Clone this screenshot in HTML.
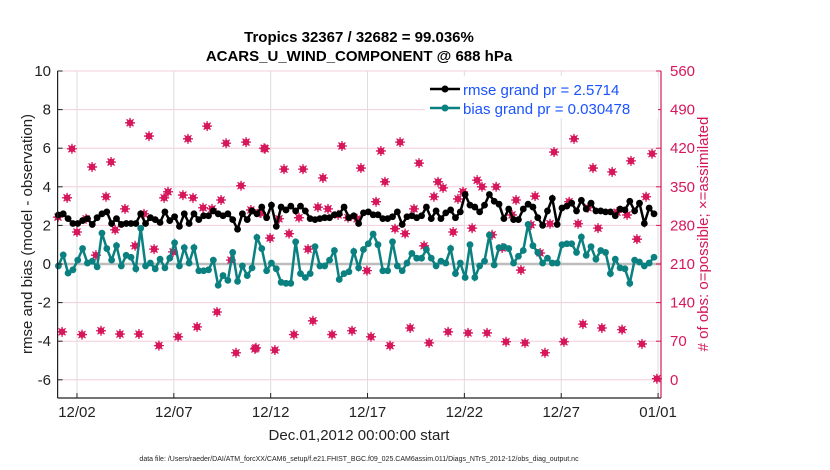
<!DOCTYPE html>
<html><head><meta charset="utf-8"><style>
body{margin:0;background:#fff;}
svg{display:block;font-family:"Liberation Sans",sans-serif;}
</style></head><body>
<svg id="chart" width="830" height="470"></svg>
<script>
const biasValues=[-0.1,0.47,-0.47,-0.3,0.2,0.8,0.05,0.15,-0.15,1.6,0.8,0.2,0.95,-0.1,0.45,0.35,-0.25,1.85,-0.1,0.05,-0.25,0.25,-0.2,0.3,1.1,-0.1,0.85,0.05,0.85,-0.35,-0.35,-0.3,0.2,-1.1,-0.6,-0.85,0.6,-0.9,-0.1,-0.6,-0.2,
1.38,0.8,-0.35,0.05,-0.25,-0.95,-1.0,-1.0,1.15,-0.5,-0.7,-0.5,0.9,-0.1,-0.1,0.2,0.7,-0.8,-0.5,-0.4,0.65,-0.2,0.75,1.05,1.55,1.0,-0.35,-0.35,1.15,-0.1,-0.35,0.05,0.55,0.3,0.3,0.75,0.3,-0.1,0.15,0.05,0.8,-0.5,0.05,
-0.7,1.0,-0.7,-0.1,0.15,1.5,-0.05,0.85,0.9,0.8,0.05,0.4,0.7,2.05,0.95,0.6,0.05,0.3,0.05,0.05,1.0,1.05,1.05,0.6,1.4,0.45,0.9,0.25,0.7,0.6,-0.5,0.25,-0.2,-0.25,-1.0,0.2,0.1,-0.1,0.05,0.35];
const rmseValues=[2.54,2.6,2.35,2.1,2.1,2.25,2.35,2.05,2.4,2.6,2.7,2.1,2.35,2.05,2.1,2.1,2.1,2.6,2.1,2.4,2.3,2.15,2.7,2.25,2.45,1.95,2.6,2.1,2.6,2.3,2.5,2.5,2.75,2.6,2.5,2.6,2.3,1.8,2.6,2.3,2.75,
2.6,2.95,2.4,3.05,1.95,2.95,2.8,3.0,2.75,3.0,2.75,2.35,2.3,2.35,2.4,2.4,2.55,2.6,2.95,2.4,2.5,2.1,2.65,2.7,2.55,2.55,2.35,2.35,2.45,2.7,2.05,2.45,2.5,2.4,2.5,2.95,2.35,2.75,2.35,2.65,2.8,2.4,2.7,
3.6,3.05,2.95,2.7,3.05,3.6,3.25,3.1,2.35,2.85,2.3,2.3,2.85,3.1,2.95,2.4,2.0,2.75,3.4,2.05,2.9,3.0,3.15,2.75,3.3,2.85,3.15,2.75,2.75,2.7,2.7,2.5,2.85,2.8,3.25,2.75,3.15,2.1,2.9,2.6];
const obsDays=[0.02,0.49,0.74,1.0,1.47,1.78,1.98,2.5,2.76,2.97,3.48,3.74,4.0,4.46,4.72,4.98,5.5,5.7,5.96,6.47,6.73,6.99,7.51,7.72,7.97,8.44,8.7,8.95,9.47,9.73,9.98,10.45,10.66,
0.23,1.26,2.24,3.22,4.2,5.23,6.22,7.2,8.23,9.21,10.19,
10.71,11.69,12.67,13.7,14.68,15.66,16.69,17.68,18.66,19.64,19.9,16.9,10.5,11.43,12.46,13.44,13.96,14.48,14.99,15.46,16.44,18.4,19.43,20.67,20.93,10.97,11.95,12.93,15.97,17.42,17.94,18.92,20.42,
10.24,11.22,12.2,13.18,14.17,15.2,16.18,17.16,18.2,19.18,20.16,
21.66,21.91,22.64,25.63,26.66,27.64,28.63,29.6,30.69,23.67,24.65,26.41,27.38,28.88,30.38,21.4,22.43,23.46,24.44,25.42,26.87,27.9,29.4,29.91,22.95,23.92,24.91,
21.19,22.17,23.15,24.13,25.16,26.14,27.12,28.1,29.14,30.17,30.94];
const obsCounts=[295,330,419,268,292,386,226,332,395,272,310,466,243,301,442,237,330,341,232,335,437,330,312,460,310,326,429,217,352,431,308,303,420,
87,82,89,83,83,62,78,96,123,49,56,
419,382,382,366,424,384,415,431,393,359,348,359,303,292,294,313,310,299,294,292,323,310,332,328,341,257,265,237,198,274,265,243,268,
58,54,82,107,82,89,78,62,94,67,87,
362,350,350,413,437,384,377,397,410,326,333,323,312,304,332,275,263,299,281,283,283,275,299,255,239,199,230,
85,85,69,67,49,69,101,94,91,65,2];
const leftTicks=[-6,-4,-2,0,2,4,6,8,10];
const rightTicks=[0,70,140,210,280,350,420,490,560];
const xTickLabels=["12/02","12/07","12/12","12/17","12/22","12/27","01/01"];
const xTickDays=[1,6,11,16,21,26,31];

const svg=document.getElementById('chart');
const NS='http://www.w3.org/2000/svg';
const X0=57.6,PXD=19.37,XR=661,YT=71,YB=398;
const xs=d=>X0+d*PXD;
const yl=v=>264-v*19.3;
const yr=n=>yl(n/35-6);
function mk(tag,attrs,parent){const e=document.createElementNS(NS,tag);for(const k in attrs)e.setAttribute(k,attrs[k]);(parent||svg).appendChild(e);return e;}
function txt(s,attrs){const t=mk('text',attrs);t.textContent=s;return t;}

rightTicks.forEach(n=>{const g=mk('line',{x1:X0,x2:XR,y1:yr(n),y2:yr(n),stroke:'#f3cddc','stroke-width':1});

});
xTickDays.forEach(d=>{const g=mk('line',{x1:xs(d),x2:xs(d),y1:YT,y2:YB,stroke:'#dddddd','stroke-width':1});

});
const zl=mk('line',{x1:X0,x2:XR,y1:yl(0),y2:yl(0),stroke:'#bdbdbd','stroke-width':2.5});



obsDays.forEach((d,i)=>{const g=mk('g',{});


const cx=xs(d),cy=yr(obsCounts[i]);
mk('circle',{cx:cx,cy:cy,r:3.3,fill:'#d6175c'},g);
mk('path',{d:`M${cx-5} ${cy}H${cx+5}M${cx} ${cy-5}V${cy+5}M${cx-3.5} ${cy-3.5}L${cx+3.5} ${cy+3.5}M${cx-3.5} ${cy+3.5}L${cx+3.5} ${cy-3.5}`,stroke:'#d6175c','stroke-width':1.3},g);});

function series(vals,color,name){
 const pts=vals.map((v,i)=>[xs(0.04+i*0.25),yl(v)]);
 const p=mk('polyline',{points:pts.map(p=>p.join(',')).join(' '),fill:'none',stroke:color,'stroke-width':2.5});
 
 
 pts.forEach(q=>{const c=mk('circle',{cx:q[0],cy:q[1],r:3.4,fill:color});
 
 });
}
series(rmseValues,'#000000','rmse');
series(biasValues,'#0a8080','bias');

mk('line',{x1:X0,x2:X0,y1:YT,y2:YB,stroke:'#222','stroke-width':1.2});
mk('line',{x1:X0,x2:XR,y1:YB,y2:YB,stroke:'#222','stroke-width':1.2});
mk('line',{x1:XR,x2:XR,y1:YT,y2:YB,stroke:'#d6175c','stroke-width':1.2});
leftTicks.forEach(v=>{mk('line',{x1:X0,x2:X0+5,y1:yl(v),y2:yl(v),stroke:'#222'});
const t=txt(String(v),{x:51,y:yl(v)+5,'text-anchor':'end','font-size':15,fill:'#222'});

});
rightTicks.forEach(n=>{mk('line',{x1:XR-5,x2:XR,y1:yr(n),y2:yr(n),stroke:'#d6175c'});
const t=txt(String(n),{x:670,y:yr(n)+5,'font-size':15,fill:'#d6175c'});

});
xTickDays.forEach((d,i)=>{mk('line',{x1:xs(d),x2:xs(d),y1:YB,y2:YB-5,stroke:'#222'});
const t=txt(xTickLabels[i],{x:xs(d),y:417,'text-anchor':'middle','font-size':15,fill:'#222'});

});
</script>
<svg width="830" height="470" style="position:absolute;left:0;top:0">
<text x="359" y="42" text-anchor="middle" font-size="15" font-weight="bold" fill="#000">Tropics 32367 / 32682 = 99.036%</text>
<text x="359" y="61" text-anchor="middle" font-size="15" font-weight="bold" fill="#000">ACARS_U_WIND_COMPONENT @ 688 hPa</text>
<text transform="translate(32,234) rotate(-90)" text-anchor="middle" font-size="15" fill="#222">rmse and bias (model - observation)</text>
<text transform="translate(708,234) rotate(-90)" text-anchor="middle" font-size="15" fill="#d6175c"># of obs: o=possible; ×=assimilated</text>
<text x="359" y="440" text-anchor="middle" font-size="15" fill="#222">Dec.01,2012 00:00:00 start</text>
<text x="359" y="461" text-anchor="middle" font-size="7" fill="#222">data file: /Users/raeder/DAI/ATM_forcXX/CAM6_setup/f.e21.FHIST_BGC.f09_025.CAM6assim.011/Diags_NTrS_2012-12/obs_diag_output.nc</text>
<g>
<rect x="425" y="76" width="233" height="42" fill="#fff" stroke="none"/>
<g>
<line x1="430" y1="89" x2="460" y2="89" stroke="#000" stroke-width="2.5"/><circle cx="445" cy="89" r="3.5" fill="#000"/>
<text x="463" y="95" font-size="15" fill="#1a53ff">rmse grand pr = 2.5714</text></g>
<g>
<line x1="430" y1="108" x2="460" y2="108" stroke="#0a8080" stroke-width="2.5"/><circle cx="445" cy="108" r="3.5" fill="#0a8080"/>
<text x="463" y="114" font-size="15" fill="#1a53ff">bias grand pr = 0.030478</text></g>
</g>
</svg>
</body></html>
